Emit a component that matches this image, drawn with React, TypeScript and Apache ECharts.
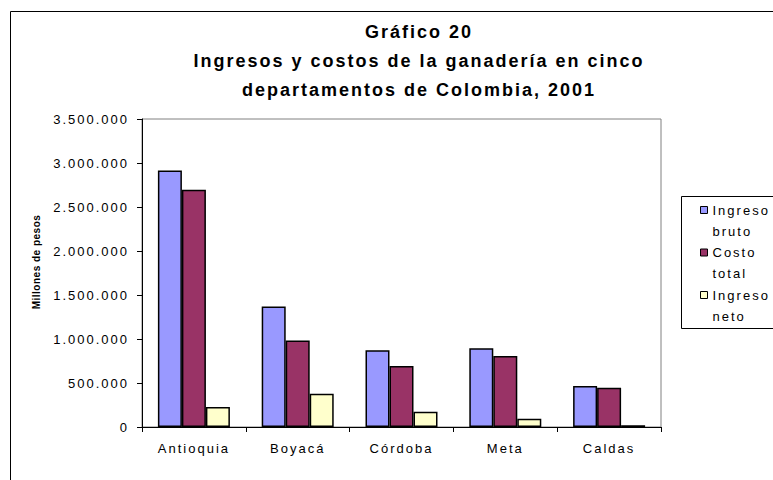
import React, { useEffect, useRef } from "react";
import * as echarts from "echarts";

const categories = ["Antioquia", "Boyacá", "Córdoba", "Meta", "Caldas"];
const seriesNames = ["Ingreso bruto", "Costo total", "Ingreso neto"];
const ingresoBruto = [2915000, 1369000, 872000, 895000, 466000];
const costoTotal = [2696000, 982000, 694000, 808000, 447000];
const ingresoNeto = [227000, 379000, 174000, 94000, 20000];
const yTicks = { min: 0, max: 3500000, interval: 500000 };
const titleText = "Gráfico 20\nIngresos y costos de la ganadería en cinco\ndepartamentos de Colombia, 2001";
const yAxisTitle = "Millones de pesos";

const colors = ["#9999FF", "#993366", "#FFFFCC"];
const FONT = '"Liberation Sans", Arial, sans-serif';

const fmt = (v: number) => String(v).replace(/\B(?=(\d{3})+(?!\d))/g, ".");

export default function App() {
  const ref = useRef<HTMLDivElement>(null);
  useEffect(() => {
    if (!ref.current) return;
    const chart = echarts.init(ref.current, null, { renderer: "svg" });
    const dataSets = [ingresoBruto, costoTotal, ingresoNeto];
    const legendTops = [178.5, 221, 263.5];
    chart.setOption({
      animation: false,
      backgroundColor: "#fff",
      title: {
        text: titleText,
        left: 419,
        top: 17,
        padding: 0,
        textAlign: "center",
        textStyle: { fontFamily: FONT, fontSize: 18, fontWeight: "bold", lineHeight: 29, color: "#000" },
      },
      grid: {
        left: 142,
        top: 119,
        right: 112,
        bottom: 53,
        show: true,
        borderColor: "#808080",
        borderWidth: 1,
      },
      legend: seriesNames.map((n, i) => ({
        data: [n],
        orient: "vertical",
        left: 700,
        top: legendTops[i],
        padding: 0,
        itemWidth: 7,
        itemHeight: 7,
        icon: "rect",
        selectedMode: false,
        itemStyle: { borderColor: "#000", borderWidth: 1 },
        textStyle: { fontFamily: FONT, fontSize: 13, lineHeight: 21, color: "#000" },
        formatter: (name: string) => "\n" + name.replace(" ", "\n"),
      })),
      xAxis: {
        type: "category",
        data: categories,
        axisLine: { lineStyle: { color: "#000", width: 1 } },
        axisTick: { show: true, length: 5, lineStyle: { color: "#000" } },
        axisLabel: { margin: 15, fontFamily: FONT, fontSize: 13, color: "#000" },
      },
      yAxis: {
        type: "value",
        min: yTicks.min,
        max: yTicks.max,
        interval: yTicks.interval,
        axisLine: { show: true, lineStyle: { color: "#000", width: 1 } },
        axisTick: { show: true, length: 5, lineStyle: { color: "#000" } },
        splitLine: { show: false },
        axisLabel: { margin: 13, fontFamily: FONT, fontSize: 13, color: "#000", formatter: (v: number) => fmt(v) },
      },
      series: seriesNames.map((n, i) => ({
        name: n,
        type: "bar",
        data: dataSets[i],
        barWidth: 24,
        barGap: "0%",
        itemStyle: { color: colors[i], borderColor: "#000", borderWidth: 1.5 },
      })),
      graphic: [
        {
          type: "rect",
          shape: { x: 10.5, y: 11.5, width: 800, height: 500 },
          style: { fill: "none", stroke: "#000", lineWidth: 1 },
          silent: true,
        },
        {
          type: "rect",
          shape: { x: 681.5, y: 196.5, width: 120, height: 132 },
          style: { fill: "none", stroke: "#000", lineWidth: 1 },
          silent: true,
        },
        {
          type: "text",
          x: 36,
          y: 262,
          rotation: Math.PI / 2,
          style: {
            text: yAxisTitle,
            font: 'bold 10px "Liberation Sans", Arial, sans-serif',
            fill: "#000",
            align: "center",
            verticalAlign: "middle",
            textAlign: "center",
            textVerticalAlign: "middle",
          },
        },
      ],
    });
    return () => chart.dispose();
  }, []);
  return (
    <>
      <style>{`.ec-wrap svg text{letter-spacing:2px}.ec-wrap svg text[style*="10px"]{letter-spacing:0.5px}`}</style>
      <div
        ref={ref}
        className="ec-wrap"
        style={{ position: "fixed", left: 0, top: 0, width: 773, height: 480, background: "#fff" }}
      />
    </>
  );
}
